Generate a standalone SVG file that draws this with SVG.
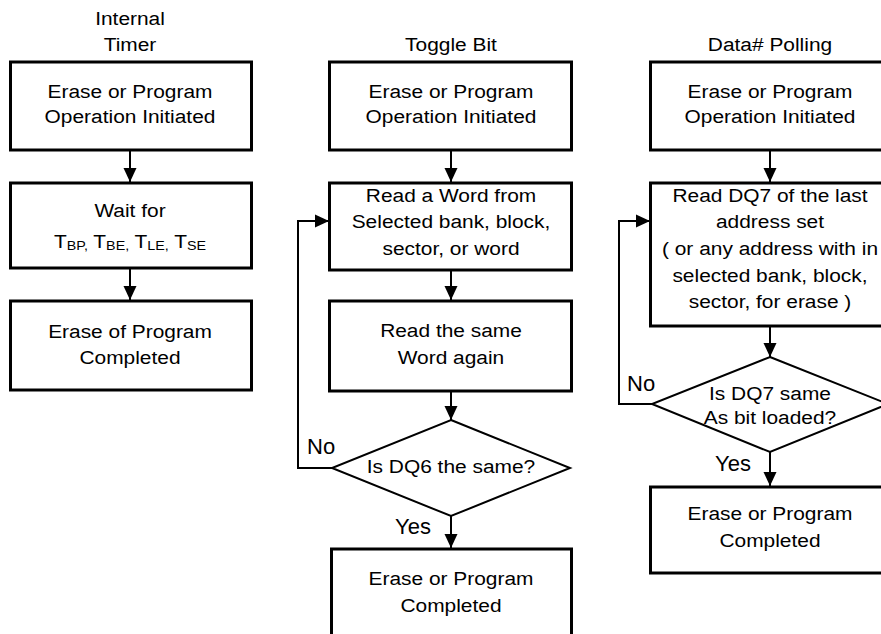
<svg xmlns="http://www.w3.org/2000/svg" width="881" height="634" viewBox="0 0 881 634">
<style>
.t{font-family:"Liberation Sans",Arial,Helvetica,sans-serif;font-size:19px;text-anchor:middle;fill:#000}
.yn{font-family:"Liberation Sans",Arial,Helvetica,sans-serif;font-size:22px;fill:#000}
.box{fill:#fff;stroke:#000;stroke-width:3}
.dia{fill:#fff;stroke:#000;stroke-width:2}
.c{fill:none;stroke:#000;stroke-width:2}
</style>
<defs>
<marker id="ah" markerUnits="userSpaceOnUse" markerWidth="14" markerHeight="14" viewBox="0 0 14 14" refX="14" refY="7" orient="auto">
<path d="M0,0.5 L14,7 L0,13.5 Z" fill="#000"/>
</marker>
</defs>
<rect width="881" height="634" fill="#fff"/>

<g id="headers">
<text class="t" transform="translate(130 0) scale(1.1 1)"><tspan x="0" y="25.5">Internal</tspan><tspan x="0" y="51.5">Timer</tspan></text>
<text class="t" transform="translate(451 0) scale(1.1 1)"><tspan x="0" y="51.5">Toggle Bit</tspan></text>
<text class="t" transform="translate(770 0) scale(1.1 1)"><tspan x="0" y="51.5">Data# Polling</tspan></text>
</g>

<g id="connectors">
<line class="c" x1="130" y1="150" x2="130" y2="182" marker-end="url(#ah)"/>
<line class="c" x1="130" y1="268" x2="130" y2="300" marker-end="url(#ah)"/>
<line class="c" x1="451" y1="150" x2="451" y2="182" marker-end="url(#ah)"/>
<line class="c" x1="451" y1="270" x2="451" y2="300" marker-end="url(#ah)"/>
<line class="c" x1="451" y1="391" x2="451" y2="420" marker-end="url(#ah)"/>
<line class="c" x1="451" y1="516" x2="451" y2="548" marker-end="url(#ah)"/>
<polyline class="c" points="332,468 298,468 298,221 329,221" marker-end="url(#ah)"/>
<line class="c" x1="770" y1="150" x2="770" y2="182" marker-end="url(#ah)"/>
<line class="c" x1="770" y1="326" x2="770" y2="357" marker-end="url(#ah)"/>
<line class="c" x1="770" y1="452" x2="770" y2="486" marker-end="url(#ah)"/>
<polyline class="c" points="652,404 619,404 619,221 650,221" marker-end="url(#ah)"/>
</g>

<g id="timer-start">
<rect class="box" x="10.5" y="62" width="241" height="88"/>
<text class="t" transform="translate(130 0) scale(1.1 1)"><tspan x="0" y="97.7">Erase or Program</tspan><tspan x="0" y="123.3">Operation Initiated</tspan></text>
</g>
<g id="timer-wait">
<rect class="box" x="10.5" y="183" width="241" height="85"/>
<text class="t" transform="translate(130 0) scale(1.1 1)"><tspan x="0" y="216.7">Wait for</tspan><tspan x="0" y="248.3">T<tspan font-size="13" dy="2">BP,</tspan><tspan dy="-2"> T</tspan><tspan font-size="13" dy="2">BE,</tspan><tspan dy="-2"> T</tspan><tspan font-size="13" dy="2">LE,</tspan><tspan dy="-2"> T</tspan><tspan font-size="13" dy="2">SE</tspan></tspan></text>
</g>
<g id="timer-done">
<rect class="box" x="10.5" y="301" width="241" height="89"/>
<text class="t" transform="translate(130 0) scale(1.1 1)"><tspan x="0" y="338.3">Erase of Program</tspan><tspan x="0" y="364">Completed</tspan></text>
</g>

<g id="toggle-start">
<rect class="box" x="329.5" y="62" width="242" height="88"/>
<text class="t" transform="translate(451 0) scale(1.1 1)"><tspan x="0" y="97.7">Erase or Program</tspan><tspan x="0" y="123.3">Operation Initiated</tspan></text>
</g>
<g id="toggle-read">
<rect class="box" x="329.5" y="183" width="242" height="87"/>
<text class="t" transform="translate(451 0) scale(1.1 1)"><tspan x="0" y="201.7">Read a Word from</tspan><tspan x="0" y="228.3">Selected bank, block,</tspan><tspan x="0" y="255">sector, or word</tspan></text>
</g>
<g id="toggle-read-again">
<rect class="box" x="329.5" y="301" width="242" height="90"/>
<text class="t" transform="translate(451 0) scale(1.1 1)"><tspan x="0" y="337.3">Read the same</tspan><tspan x="0" y="364">Word again</tspan></text>
</g>
<g id="toggle-decision">
<polygon class="dia" points="451,420 570,468 451,516 332,468"/>
<text class="t" transform="translate(451 0) scale(1.1 1)"><tspan x="0" y="473.3">Is DQ6 the same?</tspan></text>
<text class="yn" x="307" y="454.3">No</text>
<text class="yn" x="395" y="534">Yes</text>
</g>
<g id="toggle-done">
<rect class="box" x="331.5" y="549" width="240" height="95"/>
<text class="t" transform="translate(451 0) scale(1.1 1)"><tspan x="0" y="585">Erase or Program</tspan><tspan x="0" y="611.7">Completed</tspan></text>
</g>

<g id="poll-start">
<rect class="box" x="650.5" y="62" width="242" height="88"/>
<text class="t" transform="translate(770 0) scale(1.1 1)"><tspan x="0" y="97.7">Erase or Program</tspan><tspan x="0" y="123.3">Operation Initiated</tspan></text>
</g>
<g id="poll-read">
<rect class="box" x="650.5" y="183" width="242" height="143"/>
<text class="t" transform="translate(770 0) scale(1.1 1)"><tspan x="0" y="201.7">Read DQ7 of the last</tspan><tspan x="0" y="228.3">address set</tspan><tspan x="0" y="255">( or any address with in</tspan><tspan x="0" y="281.7">selected bank, block,</tspan><tspan x="0" y="308.3">sector, for erase )</tspan></text>
</g>
<g id="poll-decision">
<polygon class="dia" points="770,357 888,404 770,452 652,404"/>
<text class="t" transform="translate(770 0) scale(1.1 1)"><tspan x="0" y="400">Is DQ7 same</tspan><tspan x="0" y="424.3">As bit loaded?</tspan></text>
<text class="yn" x="627" y="390.7">No</text>
<text class="yn" x="715" y="470.7">Yes</text>
</g>
<g id="poll-done">
<rect class="box" x="650.5" y="487" width="242" height="86"/>
<text class="t" transform="translate(770 0) scale(1.1 1)"><tspan x="0" y="520">Erase or Program</tspan><tspan x="0" y="546.7">Completed</tspan></text>
</g>
</svg>
